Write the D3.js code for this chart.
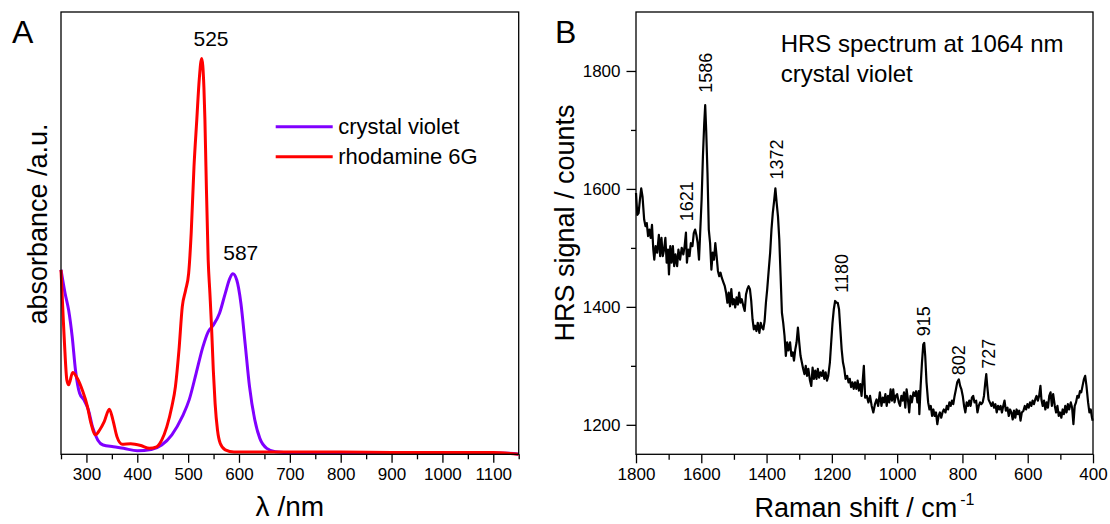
<!DOCTYPE html>
<meta charset="utf-8">
<style>
body { margin: 0; background: #fff; }
svg { font-family: "Liberation Sans", Arial, Helvetica, sans-serif; }
.frame { fill: none; stroke: #000; stroke-width: 1.3px; }
.axis path { display: none; }
.axis line { stroke: #000; stroke-width: 1.3px; }
.axis text { font-size: 17px; fill: #000; }
.title { font-size: 27px; }
.peak { font-size: 18px; }
</style>
<body>
<svg id="fig" width="1110" height="524"></svg>

<script src="https://cdn.jsdelivr.net/npm/d3@7"></script>
<script>
// panel A : absorbance spectra (arbitrary units)
var cvWavelength = [250,258,265,272,278.5,286.6,295,304,312,322.5,332.7,353,373,400,427.6,448,468,488.5,502,515.7,529,539.4,549.5,561.7,573,582,588,595.6,603.8,612,620.7,631,641,654.6,671.5,705,800,900,1000,1100,1140,1150];
var cvAbsorbance = [0.417,0.364,0.326,0.266,0.19,0.138,0.123,0.10,0.062,0.032,0.021,0.017,0.0135,0.008,0.011,0.021,0.044,0.085,0.123,0.183,0.243,0.277,0.292,0.319,0.364,0.398,0.408,0.394,0.341,0.251,0.153,0.078,0.036,0.0135,0.006,0.004,0.004,0.004,0.003,0.003,0.002,0.0];

var r6gWavelength = [250,254.7,256.8,261.5,265,273,282,292,302,309,318,326,335,345,352,360,370,387,407,424,438,448,458,468,475,482,488.5,495,501,506,511.5,517,522,526.6,531,533,535,539.4,542.8,546,549.5,553,557.7,563,573,590,700,800,900,1000,1100,1150];
var r6gAbsorbance = [0.417,0.30,0.252,0.168,0.157,0.185,0.172,0.145,0.108,0.070,0.044,0.055,0.074,0.102,0.078,0.040,0.023,0.024,0.020,0.0135,0.017,0.032,0.062,0.108,0.153,0.236,0.334,0.371,0.409,0.5,0.65,0.756,0.85,0.895,0.83,0.756,0.65,0.44,0.364,0.289,0.19,0.115,0.055,0.025,0.01,0.005,0.005,0.005,0.004,0.004,0.004,0.0];

var absPeakLabels = ["525", "587"];
var absPeakNm = [545, 603.5];
var absPeakAt = [0.922, 0.439];

var legendNames = ["crystal violet", "rhodamine 6G"];
var legendColors = ["#8000ff", "#ff0000"];

// panel B : HRS spectrum of crystal violet
var ramanShift = [1800,1796,1792,1788,1784,1780,1775,1771,1767,1763,1759,1755,1751,1747,1744,1740,1735,1730,1726,1722,1718,1714,1710,1706,1702,1699,1695,1691,1687,1683,1679,1674,1670,1665,1660,1655,1651,1647,1644,1640,1636,1632,1627,1623,1619,1615,1611,1607,1603,1599,1595,1591,1588,1585,1581,1577,1573,1569,1565,1561,1557,1553,1549,1545,1541,1537,1532,1528,1524,1520,1516,1512,1508,1504,1500,1496,1492,1488,1484,1480,1476,1471,1467,1463,1459,1455,1451,1447,1443,1439,1435,1431,1427,1422,1418,1414,1410,1406,1402,1398,1394,1389,1385,1381,1377,1373,1369,1365,1361,1357,1353,1349,1345,1341,1337,1333,1328,1324,1320,1316,1312,1308,1304,1300,1296,1292,1288,1284,1280,1276,1272,1267,1263,1259,1255,1251,1247,1243,1239,1235,1231,1227,1223,1219,1215,1211,1206,1202,1198,1194,1190,1186,1182,1178,1174,1170,1166,1162,1158,1153,1149,1145,1141,1137,1133,1129,1125,1121,1117,1113,
  1109,1102,1098,1093,1088,1083,1078,1073,1068,1063,1058,1053,1048,1044,1040,1036,1032,1028,1024,1020,1016,1012,1008,1004,1000,995,991,987,983,979,975,971,967,963,959,955,950,946,942,938,934,932,928,924,920,917,914,910,905,901,897,893,889,885,881,877,873,869,865,861,857,852,848,844,840,836,832,828,824,820,816,811,807,803,799,795,791,787,783,779,775,771,767,763,758,754,750,746,742,738,734,730,727,724,720,716,711,707,703,699,695,691,687,683,679,675,671,667,662,658,654,650,646,642,638,634,630,626,622,618,613,609,605,601,597,593,589,585,581,577,573,569,565,561,558,554,550,546,542,538,534,530,526,522,517,513,509,505,501,497,493,489,485,481,477,473,468,464,460,456,452,448,444,440,436,432,428,424,420,415,411,407,403,401];
var hrsSignal = [1593,1556,1559,1582,1601,1587,1548,1537,1542,1520,1531,1517,1539,1497,1480,1503,1492,1522,1486,1517,1486,1497,1517,1475,1497,1455,1503,1475,1503,1469,1489,1469,1497,1480,1500,1489,1503,1526,1475,1497,1486,1508,1503,1525,1531,1522,1508,1480,1531,1582,1655,1711,1742,1700,1627,1531,1508,1463,1492,1480,1508,1486,1461,1452,1458,1449,1441,1435,1424,1407,1424,1401,1430,1404,1413,1399,1416,1404,1424,1407,1413,1401,1393,1421,1430,1435,1430,1410,1379,1362,1368,1359,1373,1356,1373,1365,1362,1376,1407,1430,1458,1492,1531,1559,1579,1601,1576,1553,1514,1452,1390,1373,1351,1317,1340,1326,1340,1317,1323,1309,1328,1340,1365,1340,1317,1306,1295,1286,1300,1283,1295,1275,1266,1297,1278,1292,1278,1295,1280,1289,1283,1292,1278,1289,1275,1283,1306,1340,1373,1396,1410,1407,1407,1396,1362,1328,1306,1295,1278,1283,1272,1278,1264,1272,1261,1272,1261,1275,1258,1269,
  1249,1300,1246,1249,1238,1249,1232,1221,1235,1243,1232,1255,1232,1246,1238,1252,1232,1249,1238,1260,1241,1260,1238,1249,1252,1238,1232,1249,1241,1255,1229,1260,1243,1221,1249,1238,1255,1249,1257,1238,1257,1218,1266,1305,1336,1339,1317,1272,1238,1226,1232,1215,1226,1215,1221,1201,1215,1221,1212,1221,1226,1221,1232,1226,1238,1232,1241,1235,1249,1260,1272,1277,1266,1260,1249,1232,1221,1238,1232,1241,1232,1246,1249,1238,1241,1221,1232,1238,1235,1238,1249,1272,1286,1266,1243,1238,1232,1238,1229,1235,1221,1232,1226,1232,1221,1232,1241,1224,1229,1215,1226,1221,1209,1224,1212,1226,1218,1224,1207,1221,1224,1232,1226,1235,1229,1238,1232,1241,1235,1243,1249,1241,1249,1266,1243,1232,1241,1226,1238,1229,1249,1255,1232,1252,1232,1221,1232,1215,1221,1212,1226,1218,1232,1221,1235,1226,1238,1229,1201,1232,1238,1249,1246,1257,1255,1266,1277,1283,1266,1238,1221,1226,1212,1207];

var hrsPeakLabels = ["1621","1586","1372","1180","915","802","727"];
var hrsPeakShift = [1646,1587,1368,1171,918,810,721];
var hrsPeakAt = [1545,1763,1616,1424,1350,1284,1295];

var svg = d3.select("#fig");

// ---------- panel A ----------
var A = {left: 61, top: 12, right: 518.7, bottom: 454.3};
var xA = d3.scaleLinear().domain([250, 1150]).range([A.left, A.right]);
var yA = d3.scaleLinear().domain([0, 1]).range([A.bottom, A.top]);

var gA = svg.append("g");

gA.append("g").attr("class", "axis")
    .attr("transform", "translate(0," + A.bottom + ")")
    .call(d3.axisBottom(xA).tickValues(d3.range(250, 1151, 100)).tickSize(5).tickFormat(""));
gA.append("g").attr("class", "axis")
    .attr("transform", "translate(0," + A.bottom + ")")
    .call(d3.axisBottom(xA).tickValues(d3.range(300, 1101, 100)).tickSize(8.5).tickPadding(5).tickFormat(d3.format("d")))
    .selectAll("text").attr("dy", "0.71em");

var lineA = d3.line().curve(d3.curveMonotoneX)
    .x(function(d) { return xA(d[0]); })
    .y(function(d) { return yA(d[1]); });

gA.append("path")
    .datum(d3.zip(cvWavelength, cvAbsorbance))
    .attr("fill", "none").attr("stroke", legendColors[0]).attr("stroke-width", 3)
    .attr("d", lineA);
gA.append("path")
    .datum(d3.zip(r6gWavelength, r6gAbsorbance))
    .attr("fill", "none").attr("stroke", legendColors[1]).attr("stroke-width", 3)
    .attr("d", lineA);

gA.append("rect").attr("class", "frame")
    .attr("x", A.left).attr("y", A.top)
    .attr("width", A.right - A.left).attr("height", A.bottom - A.top);

gA.selectAll(".abslab").data(absPeakLabels).enter().append("text")
    .attr("x", function(d, i) { return xA(absPeakNm[i]); })
    .attr("y", function(d, i) { return yA(absPeakAt[i]); })
    .attr("text-anchor", "middle")
    .style("font-size", "21px")
    .text(function(d) { return d; });

var leg = gA.selectAll(".leg").data(legendNames).enter().append("g")
    .attr("transform", function(d, i) { return "translate(275.7," + (126.7 + i * 30) + ")"; });
leg.append("line").attr("x1", 0).attr("x2", 57)
    .attr("stroke", function(d, i) { return legendColors[i]; })
    .attr("stroke-width", 3);
leg.append("text").attr("x", 62.6).attr("dy", "0.33em")
    .style("font-size", "22px")
    .text(function(d) { return d; });

gA.append("text").attr("x", 12).attr("y", 43).style("font-size", "32px").text("A");
gA.append("text").attr("class", "title")
    .attr("x", (A.left + A.right) / 2).attr("y", 516)
    .attr("text-anchor", "middle").style("font-size", "28px").text("λ /nm");
gA.append("text").attr("class", "title")
    .attr("transform", "translate(47,224) rotate(-90)")
    .attr("text-anchor", "middle").text("absorbance /a.u.");

// ---------- panel B ----------
var B = {left: 636, top: 12, right: 1093, bottom: 454.3};
var xB = d3.scaleLinear().domain([1800, 400]).range([B.left, B.right]);
var yB = d3.scaleLinear().domain([1150, 1900]).range([B.bottom, B.top]);

var gB = svg.append("g");

gB.append("g").attr("class", "axis")
    .attr("transform", "translate(0," + B.bottom + ")")
    .call(d3.axisBottom(xB).tickValues(d3.range(1700, 400, -200)).tickSize(5.5).tickFormat(""));
gB.append("g").attr("class", "axis")
    .attr("transform", "translate(0," + B.bottom + ")")
    .call(d3.axisBottom(xB).tickValues(d3.range(1800, 399, -200)).tickSize(9).tickPadding(5).tickFormat(d3.format("d")))
    .selectAll("text").attr("dy", "0.71em");

gB.append("g").attr("class", "axis")
    .attr("transform", "translate(" + B.left + ",0)")
    .call(d3.axisLeft(yB).tickValues([1300, 1500, 1700]).tickSize(5).tickFormat(""));
gB.append("g").attr("class", "axis")
    .attr("transform", "translate(" + B.left + ",0)")
    .call(d3.axisLeft(yB).tickValues([1200, 1400, 1600, 1800]).tickSize(9.5).tickPadding(6).tickFormat(d3.format("d")));

var lineB = d3.line()
    .x(function(d) { return xB(d[0]); })
    .y(function(d) { return yB(d[1]); });

gB.append("path")
    .datum(d3.zip(ramanShift, hrsSignal))
    .attr("fill", "none").attr("stroke", "#000").attr("stroke-width", 2.2)
    .attr("stroke-linejoin", "round")
    .attr("d", lineB);

gB.append("rect").attr("class", "frame")
    .attr("x", B.left).attr("y", B.top)
    .attr("width", B.right - B.left).attr("height", B.bottom - B.top);

gB.selectAll(".peak").data(hrsPeakLabels).enter().append("text")
    .attr("class", "peak")
    .attr("transform", function(d, i) {
      return "translate(" + xB(hrsPeakShift[i]) + "," + yB(hrsPeakAt[i]) + ") rotate(-90)";
    })
    .attr("dy", "0.35em")
    .text(function(d) { return d; });

gB.append("text").attr("x", 780.7).attr("y", 51.7).style("font-size", "24px").text("HRS spectrum at 1064 nm");
gB.append("text").attr("x", 780.7).attr("y", 81.7).style("font-size", "24px").text("crystal violet");

gB.append("text").attr("x", 555).attr("y", 43).style("font-size", "32px").text("B");

var xt = gB.append("text").attr("class", "title")
    .attr("x", (B.left + B.right) / 2).attr("y", 517)
    .attr("text-anchor", "middle");
xt.append("tspan").text("Raman shift / cm");
xt.append("tspan").attr("dx", 3).attr("dy", -12).style("font-size", "16px").text("-1");

gB.append("text").attr("class", "title")
    .attr("transform", "translate(574,223) rotate(-90)")
    .attr("text-anchor", "middle").text("HRS signal / counts");
</script>
</body>
